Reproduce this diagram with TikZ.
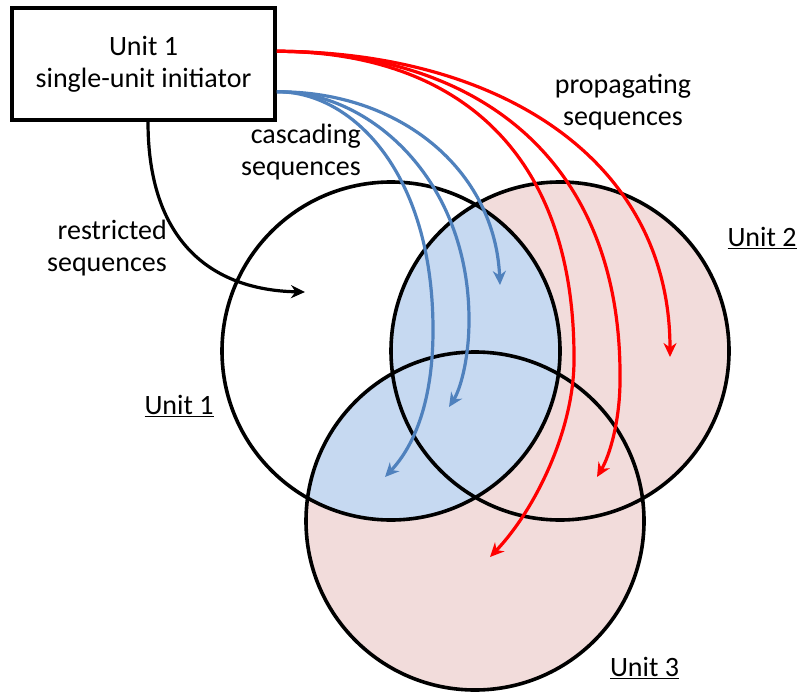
\documentclass[tikz,border=0pt]{standalone}
\usepackage{fontspec}
\setmainfont{Carlito}
\usetikzlibrary{arrows.meta,calc}
\definecolor{redline}{RGB}{255,0,0}
\definecolor{blueline}{RGB}{79,129,189}
\definecolor{bluefill}{RGB}{198,217,241}
\definecolor{pinkfill}{RGB}{242,220,219}
\begin{document}
\begin{tikzpicture}[x=1pt,y=-1pt,
  lbl/.style={font=\fontsize{28}{32}\selectfont, inner sep=0pt},
  ring/.style={draw=black, line width=3.6pt},
  seqarrow/.style={line width=3.2pt, -{Stealth[length=14pt,width=13pt,inset=4.5pt]}},
  redseq/.style={seqarrow, draw=redline},
  blueseq/.style={seqarrow, draw=blueline},
  blackseq/.style={seqarrow, draw=black}]
\useasboundingbox (0,0) rectangle (799,692);
\coordinate (C1) at (391,351);
\coordinate (C2) at (560,351);
\coordinate (C3) at (475,521);
% fills
\fill[pinkfill] (C2) circle[radius=169pt];
\fill[pinkfill] (C3) circle[radius=169pt];
\begin{scope}
  \clip (C1) circle[radius=169pt];
  \fill[bluefill] (C2) circle[radius=169pt];
  \fill[bluefill] (C3) circle[radius=169pt];
\end{scope}
\draw[ring] (C1) circle[radius=169pt];
\draw[ring] (C2) circle[radius=169pt];
\draw[ring] (C3) circle[radius=169pt];
% initiator box
\node[lbl, draw, line width=3.8pt, minimum width=263pt, minimum height=112pt, align=center] (init) at (143.5,64) {Unit 1\\single-unit initiator};
% labels
\node[lbl, anchor=east, align=right] (casc) at (361,152) {cascading\\sequences};
\node[lbl, anchor=east, align=right] (restr) at (167,248) {restricted\\sequences};
\node[lbl, align=center] (prop) at (623,102) {propagating\\sequences};
\node[lbl] (u1) at (179,406) {\underline{Unit 1}};
\node[lbl] (u2) at (762,238) {\underline{Unit 2}};
\node[lbl] (u3) at (644.5,668) {\underline{Unit 3}};
% anchors
\coordinate (rs) at ($(init.north east)!0.39!(init.south east)$);
\coordinate (bs) at ($(init.north east)!0.74!(init.south east)$);
\coordinate (ks) at ([xshift=4.5pt]init.south);
\coordinate (r1) at (490,557);
\coordinate (r2) at (597,477);
\coordinate (r3) at (670,357);
\coordinate (b1) at (385,477);
\coordinate (b2) at (449,407);
\coordinate (b3) at (500,285);
\coordinate (k1) at (305,292);
% black restricted arrow
\draw[blackseq] (ks) .. controls (148,240) and (210,290) .. (k1);
% blue cascading arrows
\draw[blueseq] (bs) .. controls (400,91) and (495,170) .. (b3);
\draw[blueseq] (bs) .. controls (370,91) and (469,180) .. (469,320) .. controls (469,360) and (460,390) .. (b2);
\draw[blueseq] (bs) .. controls (350,91) and (433,170) .. (433,330) .. controls (433,400) and (415,445) .. (b1);
% red propagating arrows
\draw[redseq] (rs) .. controls (500,52) and (670,160) .. (r3);
\draw[redseq] (rs) .. controls (490,52) and (622,170) .. (620,380) .. controls (620,420) and (610,455) .. (r2);
\draw[redseq] (rs) .. controls (455,52) and (575,150) .. (574,360) .. controls (574,430) and (535,510) .. (r1);
\end{tikzpicture}
\end{document}
